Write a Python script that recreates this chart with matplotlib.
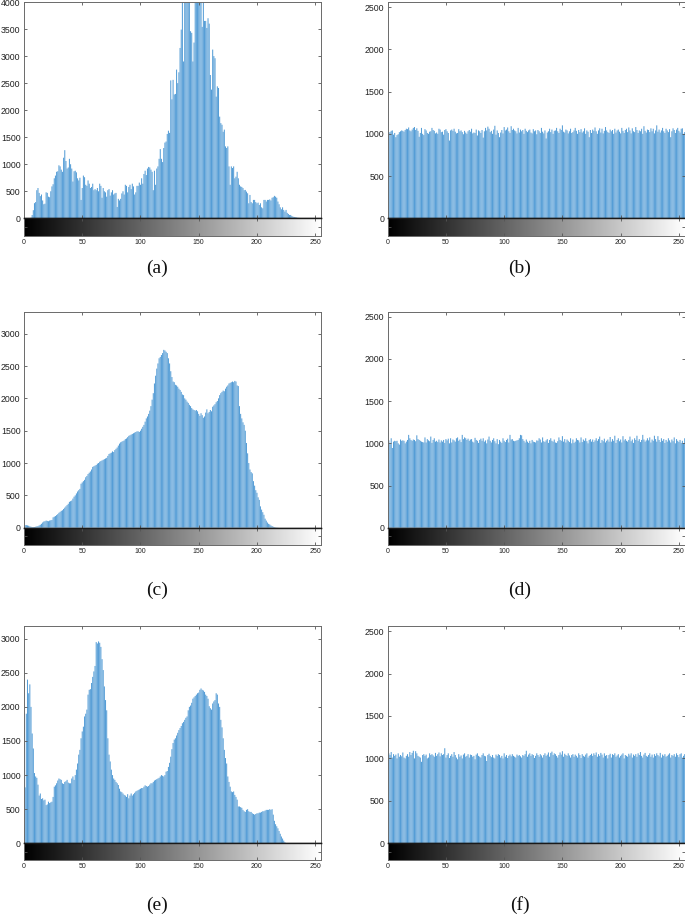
import numpy as np
import matplotlib
matplotlib.use('Agg')
import matplotlib.pyplot as plt

# ---------------- data ----------------
gray_levels = np.arange(256)
x_ticks = [0, 50, 100, 150, 200, 250]
panel_labels = ['(a)', '(b)', '(c)', '(d)', '(e)', '(f)']

hist_a = [
    0, 0, 0, 0, 0, 0, 10, 60, 150, 280,
    300, 520, 560, 470, 410, 440, 330, 260, 270, 480,
    470, 400, 390, 500, 590, 630, 740, 790, 860, 870,
    980, 960, 900, 860, 1120, 1260, 1060, 920, 940, 1100,
    1000, 920, 680, 870, 880, 850, 740, 700, 750, 340,
    560, 790, 760, 620, 600, 700, 640, 560, 580, 640,
    520, 540, 520, 560, 500, 640, 600, 380, 560, 500,
    480, 400, 520, 540, 420, 480, 520, 440, 460, 470,
    210, 360, 330, 360, 460, 500, 440, 620, 600, 480,
    580, 620, 540, 640, 590, 440, 480, 600, 600, 660,
    620, 740, 640, 820, 880, 800, 920, 950, 940, 900,
    860, 520, 880, 620, 920, 960, 1100, 1280, 1100, 1040,
    1300, 1400, 1420, 1560, 1620, 1580, 2550, 2200, 2560, 2290,
    2300, 2750, 2500, 2700, 3150, 3490, 4500, 2900, 4400, 4300,
    4500, 4200, 4100, 3460, 3430, 2900, 3250, 4400, 4600, 4100,
    4700, 4400, 4300, 3540, 4500, 3650, 3650, 3520, 3700, 3600,
    2650, 2380, 3120, 3000, 2960, 2250, 2440, 2410, 1880, 1760,
    1730, 1600, 1640, 1330, 1300, 1330, 960, 620, 960, 930,
    960, 740, 770, 860, 740, 620, 590, 580, 560, 520,
    525, 494, 463, 278, 432, 300, 278, 340, 340, 300,
    278, 290, 247, 278, 203, 185, 340, 340, 310, 340,
    340, 350, 330, 380, 390, 415, 400, 380, 310, 260,
    203, 167, 203, 155, 125, 155, 100, 80, 62, 62,
    43, 30, 25, 18, 14, 10, 8, 6, 4, 3,
    2, 2, 1, 1, 0, 0, 0, 0, 0, 0,
    0, 0, 0, 0, 0, 0,
]

hist_b = [
    1030, 1015, 1020, 1035, 1040, 990, 1010, 960, 985, 995, 1020, 1030, 1040, 1035, 1025, 1045,
    1060, 1055, 1075, 1040, 1030, 1050, 1070, 1080, 1045, 1065, 1035, 965, 1010, 1070, 1000, 985,
    1055, 1040, 1010, 1000, 1025, 1030, 1070, 1045, 1035, 1005, 1015, 1000, 1060, 1050, 1020, 1025,
    990, 1045, 1055, 1030, 1010, 920, 1040, 1050, 1035, 1060, 1025, 1005, 1010, 1055, 1030, 1040,
    1020, 995, 1035, 1015, 1000, 1030, 1045, 1025, 1060, 1005, 1015, 1010, 1050, 980, 1040, 1030,
    1010, 1045, 955, 1030, 1070, 1040, 1085, 1060, 1020, 1035, 1000, 1050, 1095, 990, 1040, 1010,
    960, 1015, 1045, 1005, 1080, 1040, 1050, 1075, 1030, 1010, 1090, 1045, 1060, 1040, 1030, 1005,
    1070, 1015, 1050, 1030, 1045, 1000, 1060, 1035, 1020, 1040, 1050, 1015, 1005, 1055, 1030, 1040,
    995, 1045, 1030, 1010, 1070, 1025, 1005, 1040, 945, 1015, 1030, 1060, 1020, 1050, 1000, 1035,
    1040, 1070, 1030, 1010, 1060, 1045, 1100, 1025, 1015, 1050, 1040, 1005, 1030, 1060, 1010, 1020,
    1040, 1070, 1035, 1000, 1045, 1020, 1055, 1015, 1030, 1065, 1000, 1040, 1025, 960, 1045, 1010,
    1050, 1035, 1075, 1030, 1000, 1040, 1065, 1015, 1060, 1005, 1035, 1080, 1040, 1020, 1010, 1050,
    1030, 1045, 1000, 1060, 1015, 1040, 1050, 1025, 1005, 1070, 1035, 1010, 1045, 1060, 1020, 1075,
    1040, 1005, 1065, 1030, 1020, 1080, 1045, 1010, 1040, 1030, 1060, 1000, 1090, 1035, 1015, 1050,
    1045, 1020, 1065, 1030, 1060, 1005, 1040, 1100, 1025, 1050, 1015, 1040, 1070, 1030, 1010, 1060,
    1040, 1020, 1055, 960, 1030, 1065, 1045, 1010, 1050, 1070, 1035, 1015, 1060, 1065, 1000, 1020,
]

hist_c = [
    30, 40, 40, 35, 30, 20, 15, 10, 10, 10,
    15, 20, 25, 35, 45, 60, 80, 95, 100, 110,
    105, 100, 110, 115, 120, 160, 170, 180, 195, 210,
    230, 245, 260, 270, 290, 310, 330, 350, 370, 400,
    410, 420, 450, 480, 500, 530, 560, 580, 600, 680,
    700, 720, 740, 780, 800, 830, 850, 870, 900, 940,
    950, 960, 970, 990, 1000, 1020, 1030, 1040, 1050, 1060,
    1070, 1080, 1110, 1140, 1150, 1160, 1180, 1170, 1200, 1220,
    1240, 1270, 1300, 1320, 1330, 1340, 1350, 1370, 1380, 1400,
    1420, 1430, 1440, 1450, 1460, 1470, 1480, 1490, 1490, 1480,
    1500, 1530, 1560, 1590, 1640, 1690, 1720, 1760, 1810, 1880,
    1980, 2080, 2230, 2350, 2460, 2540, 2620, 2640, 2670, 2700,
    2750, 2740, 2720, 2700, 2620, 2540, 2420, 2330, 2260, 2250,
    2210, 2200, 2180, 2150, 2130, 2100, 2060, 2050, 2000, 1980,
    1950, 1930, 1900, 1880, 1850, 1830, 1820, 1810, 1820, 1800,
    1760, 1730, 1770, 1740, 1700, 1720, 1780, 1830, 1770, 1790,
    1820, 1800, 1870, 1890, 1910, 1940, 1960, 2000, 2050, 2080,
    2100, 2120, 2110, 2150, 2180, 2200, 2230, 2240, 2250, 2260,
    2250, 2270, 2260, 2200, 2190, 1880, 1760, 1690, 1630, 1590,
    1500, 1310, 1150, 1000, 900, 860, 840, 720, 650, 580,
    540, 470, 430, 330, 280, 240, 200, 140, 110, 80,
    60, 50, 35, 25, 15, 8, 5, 3, 2, 0,
    0, 0, 0, 0, 0, 0, 0, 0, 0, 0,
    0, 0, 0, 0, 0, 0, 0, 0, 0, 0,
    0, 0, 0, 0, 0, 0, 0, 0, 0, 0,
    0, 0, 0, 0, 0, 0,
]

hist_d = [
    1050, 1035, 990, 1060, 945, 1020, 1030, 1025, 1030, 1000, 985, 1045, 1030, 1035, 1030, 1000,
    1020, 1040, 1100, 1060, 1040, 1030, 1045, 1040, 1025, 1095, 1050, 1040, 1030, 1020, 1015, 1010,
    1070, 1010, 1050, 1035, 1025, 1080, 1005, 1040, 1060, 1020, 1030, 1015, 1045, 1010, 1035, 1020,
    1040, 1005, 1050, 1035, 1055, 1000, 1060, 1010, 1045, 1035, 1020, 1060, 1070, 1030, 1045, 1015,
    1100, 1050, 1070, 1060, 1040, 1055, 1030, 1045, 1050, 1020, 1010, 1065, 1040, 1030, 1005, 1040,
    1055, 1030, 1060, 1020, 1035, 1000, 1045, 1080, 1030, 1010, 1040, 1060, 1025, 1000, 1050, 990,
    1040, 1020, 1005, 1060, 1030, 1015, 1040, 1055, 1010, 1100, 1045, 1050, 1030, 1025, 1030, 1035,
    1040, 1060, 1100, 1095, 1050, 1030, 1010, 1045, 1020, 1005, 1030, 1000, 1040, 1020, 1015, 1010,
    1035, 1030, 1060, 1045, 1010, 1070, 1025, 1015, 1035, 1050, 1005, 1040, 1060, 1030, 1020, 1045,
    1010, 1005, 1025, 1070, 1040, 1030, 1085, 1020, 1050, 1010, 1045, 1030, 1015, 1060, 1000, 1045,
    1005, 1020, 1060, 1040, 1035, 1010, 1070, 1015, 1045, 1030, 1060, 1025, 1000, 1040, 1050, 1020,
    1045, 1015, 1035, 1060, 1030, 1050, 1080, 1005, 1040, 1025, 1055, 1010, 1030, 1045, 1020, 1075,
    1020, 1050, 1030, 1090, 1005, 1040, 1060, 1025, 1045, 1010, 1085, 1035, 1050, 1030, 1020, 1040,
    1080, 1025, 1045, 1005, 1060, 1040, 1090, 1030, 1050, 1015, 1040, 1100, 1045, 1020, 1035, 1060,
    1035, 1070, 1010, 1045, 1030, 1090, 1050, 1020, 1085, 1040, 1015, 1060, 1030, 1050, 1005, 1040,
    1020, 1060, 1035, 1010, 1045, 1025, 1070, 1000, 1050, 1030, 1015, 1040, 1005, 1030, 1000, 1060,
]

hist_e = [
    230, 820, 1900, 2400, 2200, 2330, 2000, 1610, 1390, 1030,
    980, 960, 860, 700, 730, 650, 660, 630, 640, 560,
    570, 610, 590, 600, 610, 680, 830, 850, 880, 920,
    950, 940, 930, 880, 870, 900, 910, 930, 890, 880,
    880, 950, 980, 930, 1000, 1080, 1170, 1300, 1370, 1540,
    1640, 1710, 1860, 1900, 1960, 2180, 2250, 2260, 2350, 2440,
    2520, 2600, 2950, 2930, 2960, 2940, 2880, 2700, 2540, 2300,
    2100, 1950, 1540, 1300, 1200, 1080, 1000, 950, 930, 900,
    880, 855, 800, 760, 750, 730, 710, 700, 680, 720,
    660, 700, 730, 700, 720, 740, 760, 770, 780, 790,
    800, 810, 810, 830, 850, 840, 830, 840, 860, 880,
    880, 900, 920, 930, 940, 950, 960, 980, 1000, 990,
    980, 1000, 1050, 1060, 1120, 1180, 1270, 1380, 1470, 1520,
    1540, 1580, 1620, 1660, 1690, 1720, 1760, 1780, 1810, 1840,
    1860, 1950, 2000, 2020, 2060, 2120, 2140, 2160, 2180, 2200,
    2210, 2250, 2270, 2250, 2240, 2220, 2180, 2160, 2120, 2010,
    1980, 1960, 2050, 2080, 2100, 2200, 2180, 2050, 2000, 1810,
    1700, 1540, 1370, 1250, 1170, 980, 900, 830, 760, 750,
    760, 710, 680, 640, 540, 540, 530, 520, 490, 470,
    460, 490, 500, 470, 460, 460, 440, 430, 420, 430,
    440, 440, 450, 450, 460, 470, 470, 480, 490, 490,
    490, 500, 490, 500, 420, 330, 280, 250, 220, 180,
    140, 100, 70, 40, 15, 0, 0, 0, 0, 0,
    0, 0, 0, 0, 0, 0, 0, 0, 0, 0,
    0, 0, 0, 0, 0, 0, 0, 0, 0, 0,
    0, 0, 0, 0, 0, 0,
]

hist_f = [
    1080, 1060, 1040, 1075, 1010, 1050, 1030, 1045, 1000, 1060, 1020, 1040, 1025, 1070, 1010, 1000,
    1030, 1050, 1020, 1075, 1040, 1065, 1090, 1000, 1085, 1060, 1030, 1020, 1010, 960, 1040, 1050,
    1030, 1045, 1000, 1010, 1060, 1040, 1050, 1035, 1020, 1065, 1030, 1050, 1070, 1025, 1060, 1040,
    1050, 1120, 1010, 1040, 1060, 1005, 1030, 1050, 1020, 1075, 1040, 1010, 990, 1050, 1020, 1035,
    1000, 1045, 1060, 1020, 1030, 1050, 1010, 1045, 1040, 1020, 1030, 990, 1045, 1060, 1030, 1020,
    1010, 1040, 1060, 1030, 1025, 970, 1040, 1055, 1030, 1015, 1040, 1010, 1000, 1045, 1030, 1050,
    1040, 1010, 1030, 1000, 1060, 1020, 1040, 1005, 1030, 1045, 1025, 1050, 1030, 1020, 1010, 1045,
    1030, 1040, 1025, 1010, 1040, 1030, 1050, 1090, 1020, 1045, 1060, 1030, 1050, 1040, 1005, 1030,
    1060, 1040, 1020, 1050, 1035, 1010, 1040, 1060, 1030, 1045, 1070, 1020, 1065, 1080, 1040, 1060,
    1050, 1030, 1010, 1040, 1070, 1045, 1085, 1020, 1055, 1040, 1030, 1060, 1035, 1010, 1040, 1050,
    1020, 1045, 1030, 1010, 1060, 1040, 1005, 1050, 1030, 1020, 1045, 1060, 1010, 1030, 1040, 1055,
    1030, 1060, 1040, 1070, 1020, 1050, 1030, 1065, 1045, 1010, 1060, 1030, 1040, 1000, 1040, 1055,
    1010, 1050, 1040, 1060, 1020, 1035, 1050, 1010, 1030, 1045, 1060, 1000, 1040, 1030, 1020, 1055,
    1035, 1060, 1010, 1045, 1030, 1050, 1020, 1060, 1040, 1075, 1030, 1010, 1045, 1065, 1030, 1020,
    1040, 1060, 1020, 1045, 1010, 1050, 1030, 1060, 1040, 1025, 1065, 1010, 1045, 1030, 1050, 1020,
    1030, 1045, 1060, 1010, 1040, 1030, 1050, 1020, 1060, 1040, 1015, 1050, 1060, 1010, 1030, 1050,
]

y_max = [4000, 2560, 3340, 2560, 3186, 2560]

# ---------------- layout (pixels) ----------------
W, H = 685, 919
fig = plt.figure(figsize=(W / 100, H / 100), dpi=100)

col_left = [24.0, 387.7]
ax_w = 297.0
rows = [(2.0, 218.3, 235.7), (311.7, 527.7, 545.0), (626.0, 843.3, 860.0)]
label_pos = [(157, 268), (520, 268), (157, 590), (520, 590), (157, 905), (520, 905)]

bar_color = '#559DD6'
spine_col = '#6a6a6a'
tick_font = 'Liberation Sans'

hists = [hist_a, hist_b, hist_c, hist_d, hist_e, hist_f]

for i, vals in enumerate(hists):
    r, c = divmod(i, 2)
    top, zero, bot = rows[r]
    x0 = col_left[c]
    ax = fig.add_axes([x0 / W, 1 - zero / H, ax_w / W, (zero - top) / H])
    bars = ax.bar(gray_levels, vals, width=0.88, color=bar_color, linewidth=0)
    for b in bars:
        b.set_snap(False)
    ax.set_xlim(0, 255)
    ax.set_ylim(0, y_max[i])
    ax.set_xticks(x_ticks)
    ax.set_xticklabels([])
    ax.set_yticks(np.arange(0, y_max[i] + 1, 500))
    ax.tick_params(direction='in', top=True, right=True, length=2.5, width=0.6,
                   colors='#555555', labelcolor='#222222', labelsize=6.3, pad=2.5)
    for lab in ax.get_yticklabels():
        lab.set_family(tick_font)
    for s in ax.spines.values():
        s.set_color(spine_col)
        s.set_linewidth(0.7)
    ax.spines['bottom'].set_color('#1a1a1a')
    ax.spines['bottom'].set_linewidth(1.0)

    cax = fig.add_axes([x0 / W, 1 - bot / H, ax_w / W, (bot - zero) / H])
    cax.imshow(gray_levels[None, :], cmap='gray', vmin=0, vmax=255, aspect='auto',
               extent=(0, 255, 0, 1), interpolation='bilinear')
    cax.set_xlim(0, 255)
    cax.set_ylim(0, 1)
    cax.set_xticks(x_ticks)
    cax.set_xticklabels([str(t) for t in x_ticks], family=tick_font)
    cax.set_yticks([0.5])
    cax.set_yticklabels([])
    cax.tick_params(direction='in', top=True, right=True, length=2.5, width=0.6,
                    colors='#555555', labelcolor='#222222', labelsize=5.0, pad=2.5)
    for s in cax.spines.values():
        s.set_color(spine_col)
        s.set_linewidth(0.7)
    cax.spines['top'].set_color('#1a1a1a')
    cax.spines['top'].set_linewidth(1.0)

    lx, ly = label_pos[i]
    fig.text(lx / W, 1 - ly / H, panel_labels[i], ha='center', va='center',
             family='Liberation Serif', fontsize=14, color='#111111')

fig.savefig('out.png', dpi=100)
